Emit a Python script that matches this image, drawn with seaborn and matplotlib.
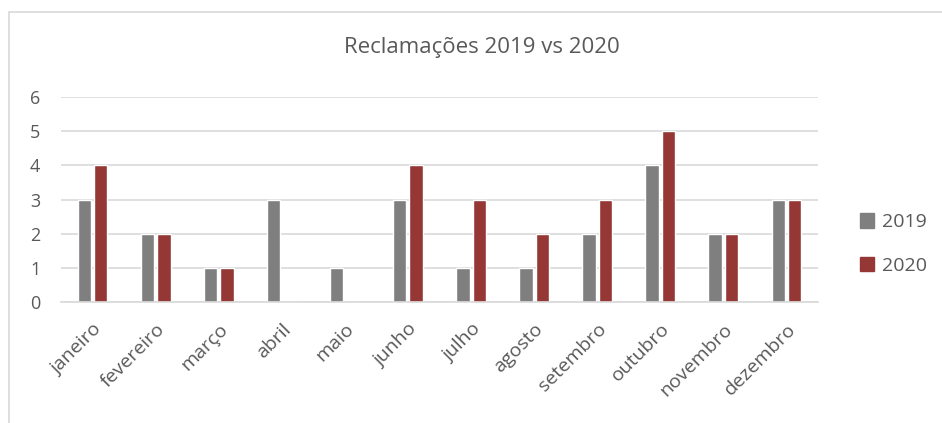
import seaborn as sns
import matplotlib.pyplot as plt
import matplotlib.patches as mpatches
import pandas as pd

# data
months = ['janeiro', 'fevereiro', 'março', 'abril', 'maio', 'junho',
          'julho', 'agosto', 'setembro', 'outubro', 'novembro', 'dezembro']
rec_2019 = [3, 2, 1, 3, 1, 3, 1, 1, 2, 4, 2, 3]
rec_2020 = [4, 2, 1, 0, 0, 4, 3, 2, 3, 5, 2, 3]
years = ['2019', '2020']

df = pd.DataFrame({
    'mes': months * 2,
    'ano': ['2019'] * len(months) + ['2020'] * len(months),
    'reclamacoes': rec_2019 + rec_2020,
})

sns.set_theme(style='white')
plt.rcParams['font.family'] = ['Open Sans', 'DejaVu Sans']

text_col = '#595959'
grid_col = '#D9D9D9'
palette = {'2019': '#7F7F7F', '2020': '#953735'}

fig = plt.figure(figsize=(9.42, 4.23), dpi=100)
ax = fig.add_axes([61 / 942, 1 - 302 / 423, (818 - 61) / 942, (302 - 97) / 423])

sns.barplot(data=df, x='mes', y='reclamacoes', hue='ano', hue_order=years,
            palette=palette, width=0.52, gap=0.18, saturation=1, ax=ax, legend=False)

ax.set_ylim(0, 6)
ax.set_yticks(range(0, 7))
ax.set_xlim(-0.5, len(months) - 0.5)
ax.yaxis.grid(True, color=grid_col, linewidth=1.2)
ax.set_axisbelow(True)
for s in ['top', 'right', 'left']:
    ax.spines[s].set_visible(False)
ax.spines['bottom'].set_color(grid_col)
ax.spines['bottom'].set_linewidth(1.2)
ax.tick_params(length=0, colors=text_col)
ax.tick_params(axis='y', pad=15, labelsize=13)
ax.tick_params(axis='x', pad=13, labelsize=14)
ax.set_xlabel('')
ax.set_ylabel('')
plt.setp(ax.get_xticklabels(), rotation=45, ha='right', rotation_mode='anchor')

fig.suptitle('Reclamações 2019 vs 2020', x=482 / 942, y=1 - 47 / 423,
             va='center', fontsize=16, color=text_col)

# legend on the right
handles = [mpatches.Patch(color=palette[y], label=y) for y in years]
fig.legend(handles=handles, loc='center left', bbox_to_anchor=(842 / 942, 1 - 244 / 423),
           frameon=False, handlelength=0.75, handleheight=0.75, handletextpad=0.4,
           labelspacing=1.3, fontsize=14, labelcolor=text_col)

# chart frame
fig.patches.append(mpatches.Rectangle((9 / 942, -0.1), 1.2, 1.1 - 12 / 423,
                                      transform=fig.transFigure, fill=False,
                                      edgecolor=grid_col, linewidth=1.2))

fig.savefig('out.png', dpi=100)
